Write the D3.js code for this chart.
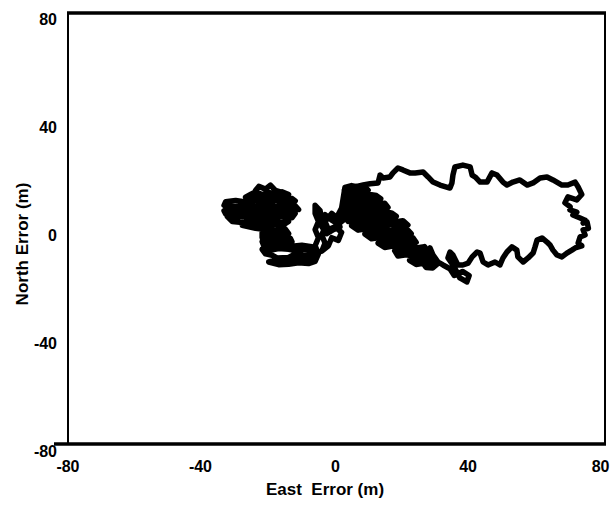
<!DOCTYPE html>
<html>
<head>
<meta charset="utf-8">
<script src="https://cdn.jsdelivr.net/npm/d3@7"></script>
<style>
  html, body { margin: 0; padding: 0; background: #fff; }
  svg { display: block; }
</style>
</head>
<body>
<svg id="chart" width="615" height="505"></svg>
<script>
// ---- Data (East error, North error) in metres ----
const xTicks = [-80, -40, 0, 40, 80];
const yTicks = [80, 40, 0, -40, -80];

const westBlob = [
  [-24,16.5],[-23,18],[-21,17],[-19.5,18.5],[-18,16.5],
  [-14,15],[-16,16],[-18,15],[-20,15.8],[-22,15],[-24,16],[-25.5,15],
  [-27,14],[-25,13.5],[-22,14.3],[-19,13.6],[-16,14.2],[-13,13.5],
  [-12,12.6],[-15,12],[-18,12.8],[-21,12.2],[-24,12.8],[-27,12.2],[-30,12.8],[-33,12.3],
  [-33.5,11],[-30,10.5],[-27,11.3],[-24,10.6],[-21,11.2],[-18,10.6],[-15,11.3],[-12,10.8],
  [-11,9.4],[-14,9.8],[-17,9.2],[-20,9.8],[-23,9.2],[-26,9.8],[-29,9.2],[-32,9.8],[-33.5,9],
  [-33,7.8],[-30,8.2],[-27,7.6],[-24,8.3],[-21,7.7],[-18,8.2],[-15,7.6],[-12,8],
  [-13,6.4],[-16,6.8],[-19,6.2],[-22,6.8],[-25,6.2],[-28,6.8],[-31,6.3],[-32.5,6.8],
  [-31,5],[-28,4.6],[-25,5.3],[-22,4.7],[-19,5.2],[-16,4.6],[-14,5],
  [-16,3.4],[-19,3.8],[-22,3.3],[-25,3.8],[-28,3.6],[-24,2.5]
];
const southBlob = [
  [-21,2],[-18,1.6],[-15,2.2],
  [-14,0.5],[-17,0.9],[-20,0.3],[-22,0.8],
  [-22,-1],[-19,-1.4],[-16,-0.8],[-13.5,-1.2],
  [-13,-2.5],[-16,-2.2],[-19,-2.8],[-22,-2.4],
  [-21.5,-4],[-19,-4.4],[-16,-3.8],[-13,-4.2],[-10,-3.8],[-7,-4.3],
  [-6,-5.5],[-9,-5.2],[-12,-5.8],[-14,-5.3],[-17,-5],[-20,-5.8],[-22,-5.3],
  [-21,-7],[-19,-7.5],[-17.5,-8.5],[-14,-8.3],[-12,-7],[-9,-7.4],[-6,-7],
  [-6,-8.5],[-9,-9],[-12,-8.7],[-15,-9.5],[-18,-9.3],[-20,-10],[-17,-11],[-14,-10.8],
  [-11,-10.3],[-8,-10.6],[-6,-9.8]
];
const connector = [
  [-5,-7],[-6,-4],[-5,-1],[-6,2],[-5,5],[-6,8],[-6,11],[-4.5,9],[-4,6],[-3,3],
  [-4,0],[-3,-3],[-4,-6],[-2,-4],[-1,-1],[1,-2],[2,1],[0,3],[-2,2],[-3,5],
  [-1,8],[1,6],[2,8],[4,9],[3,6],[1,4],[-1,5.5],[-3,7.5],[-4.5,4],[-2.5,0.5],
  [-0.5,2],[1.5,3],[0.5,6.5],[2,10]
];
// Dense diagonal band between the west cluster and the loop (rows, top to bottom)
const bandRows = [
  [3,17.6],[5,18.3],[7,17.8],[8.5,18.4],
  [10,16.6],[8,16.1],[6,16.7],[4,16.2],[2.8,16.6],
  [3,14.6],[5.5,15.1],[8,14.5],[10.5,15],[12.5,14.6],
  [13.8,13.4],[11.5,12.9],[9,13.5],[6.5,12.9],[4,13.4],[2.5,13],
  [2.5,11.4],[5,11.9],[7.5,11.3],[10,11.8],[12.5,11.3],[15,11.8],
  [16,10.2],[13.5,9.7],[11,10.3],[8.5,9.7],[6,10.3],[3.5,9.8],[2,10.1],
  [2,8.2],[4.5,8.7],[7,8.1],[9.5,8.6],[12,8.1],[14.5,8.7],[17,8.2],
  [18.5,6.9],[16,6.5],[13.5,7.1],[11,6.5],[8.5,7.1],[6,6.5],[3,6.9],
  [4,5],[6.5,5.5],[9,4.9],[11.5,5.4],[14,4.9],[16.5,5.5],[19,5],[20.5,5.3],
  [22,3.7],[19.5,3.3],[17,3.9],[14.5,3.3],[12,3.8],[9.5,3.3],[7,3.8],[5,3.4],
  [7,1.8],[9.5,2.3],[12,1.7],[14.5,2.2],[17,1.7],[19.5,2.3],[22,1.8],
  [23,0.5],[20.5,0],[18,0.6],[15.5,0],[13,0.6],[10.5,0.1],[9,0.4],
  [11,-1.4],[13.5,-0.9],[16,-1.5],[18.5,-0.9],[21,-1.5],[23.5,-1],
  [24.5,-2.7],[22,-3.2],[19.5,-2.6],[17,-3.1],[14.5,-2.6],[13,-3],
  [15,-4.6],[17.5,-4.1],[20,-4.7],[22.5,-4.1],[25,-4.7],[27,-4.3],
  [28,-5.8],[25.5,-6.3],[23,-5.7],[20.5,-6.2],[18,-5.8],
  [19,-7.8],[21.5,-7.3],[24,-7.9],[26.5,-7.3],[29,-7.8],
  [30,-9],[27.5,-9.5],[25,-8.9],[22.5,-9.4],
  [24.5,-10.9],[27,-10.4],[29.5,-11],[31,-10.6],
  [29.5,-12.2],[27.5,-12]
];
// Loop, listed west→east along each arc
const loopNorth = [
  [4.5,17.4],[6.6,18],[8.5,18.5],[10.6,19],[13,19.3],[13.6,22.2],[14.5,21.1],[16.6,21.5],[17.5,23],
  [19,24.8],[20.5,24.1],[22.6,23],[24.2,23],[26.6,23.3],[28.1,21.5],[29.6,19.6],[31.7,18.5],
  [34.7,17.4],[35.3,19.3],[35.6,22.2],[36.2,25.2],[38.6,25.9],[40.8,25.2],[41.4,22.2],
  [42.3,21.5],[43.8,19.6],[45.9,19.6],[47.4,23],[48.9,22.2],[50.7,19.6],[51.9,18.5],
  [53.7,19.6],[55.8,20.4],[58,18.5],[59.8,19.3],[61.9,21.1],[64,21.5],[65.8,20.4],
  [68.5,18.5],[70.3,18.5],[72.5,19.6],[73.4,17.8]
];
const loopEast = [
  [74.5,15],[73,13],[70.3,14.1],[69.4,11.9],[71,10.5],[70.9,9.3],[73,8.5],[71.8,7.4],
  [74,6.3],[75.5,5.5],[74.9,4.4],[76.1,4.8],[76.5,2.5],[74.9,1.9],[75.5,0],[74,-0.7],
  [73.4,-3],[74.5,-4],[72.5,-4.8],[71.5,-5.6]
];
const loopSouth = [
  [70,-6.7],[68.5,-8.1],[67,-7.4],[65.8,-5.6],[64.9,-3.7],[64,-2.6],[62.5,-1.1],[61,-1.9],
  [60.4,-4.4],[59.8,-6.7],[58.3,-8.5],[56.8,-10],[55.2,-8.1],[54.9,-5.6],[53.4,-4.4],
  [51.9,-6.3],[50.7,-8.5],[49.8,-11.1],[48.3,-10],[46.2,-11.1],[44.7,-10],[43.8,-6.7],
  [42.9,-6.3],[41.4,-8.1],[40.2,-10.4],[38.6,-11.1],[37.1,-11.1],[35.6,-7.4],[34.7,-6.3],
  [34.1,-8.5],[35.6,-11.1],[36.8,-13.7],[37.7,-15.9],[39.8,-17.4],[40.5,-15],[38.5,-13.5],
  [36,-15],[34.7,-12.5],[32.6,-11.1],[31.1,-10],[29.6,-7.4],[28.7,-4.8],[27.8,-7.4],[26.6,-10],
  [25.7,-8.5],[24.8,-6.3],[23.5,-3.7],[22,-1.1],[20.5,0.7],[19.6,1.9]
];

// path order: west cluster → connector → band → loop traversed south, east, then north back to the band
const track = [].concat(
  westBlob, southBlob, connector, bandRows,
  loopSouth.slice().reverse(), loopEast.slice().reverse(), loopNorth.slice().reverse()
);

// ---- Layout ----
const frame = { left: 68, right: 605, top: 13, bottom: 444 };
const x = d3.scaleLinear().domain([-80, 80]).range([70, 600]);
const y = d3.scaleLinear().domain([-80, 80]).range([451, 19]);

const svg = d3.select("#chart");
const font = "'Liberation Sans', Arial, Helvetica, sans-serif";

// Trajectory
const line = d3.line().x(d => x(d[0])).y(d => y(d[1]));
svg.append("path")
  .datum(track)
  .attr("d", line)
  .attr("fill", "none")
  .attr("stroke", "#000")
  .attr("stroke-width", 5.5)
  .attr("stroke-linejoin", "round")
  .attr("stroke-linecap", "round");

// Frame
svg.append("line").attr("x1", frame.left - 1).attr("x2", frame.right + 1)
  .attr("y1", frame.top).attr("y2", frame.top).attr("stroke", "#000").attr("stroke-width", 3.5);
svg.append("line").attr("x1", 54).attr("x2", frame.right + 1)
  .attr("y1", frame.bottom).attr("y2", frame.bottom).attr("stroke", "#000").attr("stroke-width", 3.5);
svg.append("line").attr("x1", frame.left).attr("x2", frame.left)
  .attr("y1", frame.top).attr("y2", frame.bottom).attr("stroke", "#000").attr("stroke-width", 2);
svg.append("line").attr("x1", frame.right).attr("x2", frame.right)
  .attr("y1", frame.top).attr("y2", frame.bottom).attr("stroke", "#000").attr("stroke-width", 2);

// X axis labels
const fmt = d => String(d).replace("-", "\u2010");
const xAxis = d3.axisBottom(x).tickValues(xTicks).tickSize(0).tickPadding(17).tickFormat(fmt);
svg.append("g").attr("transform", `translate(0,${frame.bottom})`).call(xAxis)
  .call(g => g.select(".domain").remove())
  .call(g => g.selectAll("text")
    .attr("font-family", font).attr("font-size", 16).attr("font-weight", "bold").attr("fill", "#000")
    .attr("text-anchor", d => d === 0 ? "middle" : "end")
    .attr("x", d => d === 0 ? 0 : 9));

// Y axis labels
const yAxis = d3.axisLeft(y).tickValues(yTicks).tickSize(0).tickPadding(11).tickFormat(fmt);
svg.append("g").attr("transform", `translate(${frame.left},0)`).call(yAxis)
  .call(g => g.select(".domain").remove())
  .call(g => g.selectAll("text")
    .attr("font-family", font).attr("font-size", 16).attr("font-weight", "bold").attr("fill", "#000"));

// Axis titles
svg.append("text")
  .attr("x", 325).attr("y", 495)
  .attr("text-anchor", "middle")
  .attr("font-family", font).attr("font-size", 17).attr("font-weight", "bold")
  .style("white-space", "pre")
  .text("East  Error (m)");

svg.append("text")
  .attr("transform", "translate(28,244) rotate(-90)")
  .attr("text-anchor", "middle")
  .attr("font-family", font).attr("font-size", 17).attr("font-weight", "bold")
  .text("North Error (m)");
</script>
</body>
</html>
